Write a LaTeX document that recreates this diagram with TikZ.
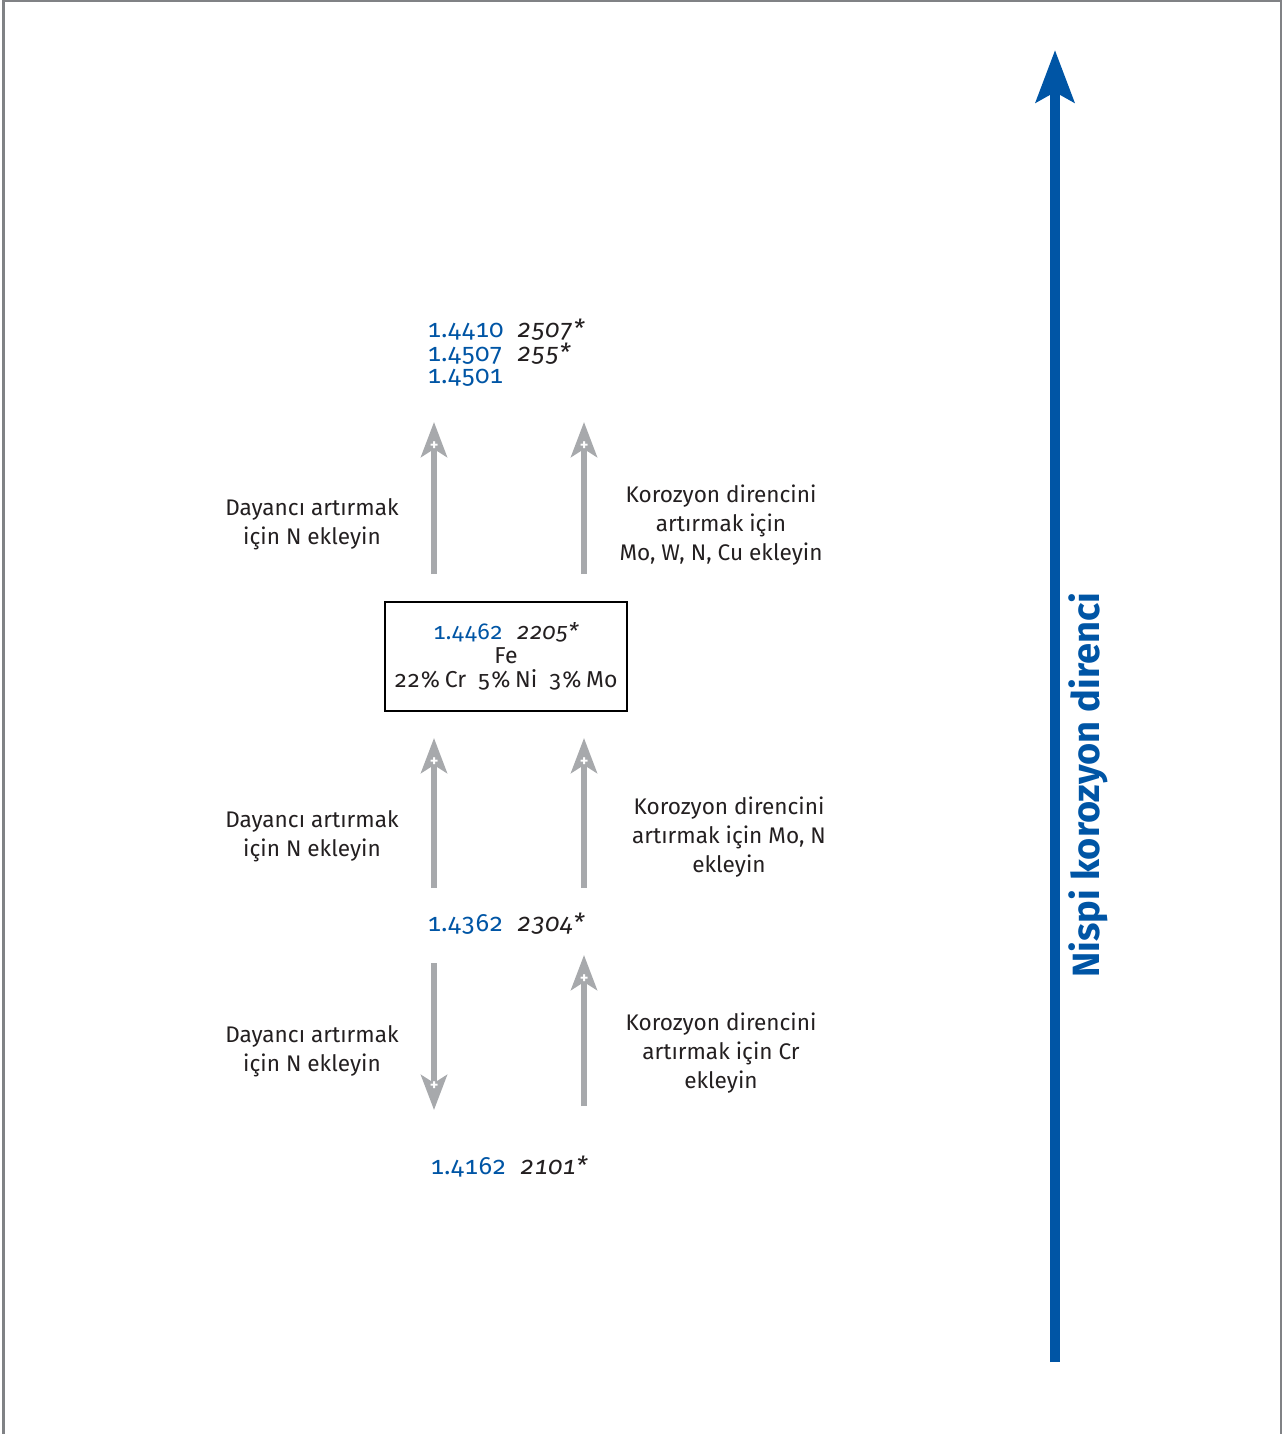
\documentclass[tikz,border=0pt]{standalone}
\usepackage{fontspec}
\setmainfont{Fira Sans}[Numbers={OldStyle,Monospaced}]
\usepackage{tikz}
\usetikzlibrary{arrows.meta, decorations.markings}
\definecolor{steelblue}{RGB}{0,85,165}
\definecolor{arrowgray}{RGB}{167,169,172}
\definecolor{framegray}{RGB}{128,130,133}
\definecolor{textblack}{RGB}{35,31,32}
\newcommand{\grade}[1]{\textcolor{steelblue}{#1}}

\begin{document}
\begin{tikzpicture}[
        x=0.5pt, y=-0.5pt,
        % Define styles
        code/.style={anchor=west, inner sep=0pt, font=\fontsize{12.5}{14}\selectfont, text=textblack},
        label/.style={align=center, inner sep=0pt, font=\fontsize{11.3}{14.5}\selectfont, text=textblack},
        alloy/.style={draw, thick, minimum width=121pt, minimum height=54.5pt, align=center, inner sep=0pt, font=\fontsize{11.5}{12}\selectfont, text=textblack},
        plussign/.style={text=white, inner sep=0pt, font=\fontsize{8}{8}\bfseries\selectfont},
        gain/.style={arrowgray, line width=3pt, -{Stealth[length=17.5pt, width=13pt, inset=4pt]},
            postaction={decorate, decoration={markings, mark=at position -12pt with {\node[plussign] {+};}}}},
        trend/.style={steelblue, line width=5pt, -{Stealth[length=26pt, width=19pt, inset=5pt]}}
    ]

    \useasboundingbox (0,0) rectangle (1283,1434);

    % frame
    \draw[framegray, line width=1.5pt] (3,0) -- (3,1434);
    \draw[framegray, line width=0.6pt] (3,1) -- (1281,1) -- (1281,1434);

    % 1. Top grades
    \node[code] (g4410) at (427,330) {\grade{1.4410}\hspace{7pt}\textit{2507*}};
    \node[code] (g4507) at (427,354) {\grade{1.4507}\hspace{7pt}\textit{255*}};
    \node[code] (g4501) at (427,378) {\grade{1.4501}};

    % 2. Upper arrows
    \coordinate (u1s) at (434,574);
    \coordinate (u1e) at (434,422);
    \coordinate (u2s) at (584,574);
    \coordinate (u2e) at (584,422);
    \draw[gain] (u1s) -- (u1e);
    \draw[gain] (u2s) -- (u2e);
    \node[label] (lu1) at (312,524) {Dayancı artırmak\\için N ekleyin};
    \node[label] (lu2) at (721,525) {Korozyon direncini\\artırmak için\\Mo, W, N, Cu ekleyin};

    % 3. Base alloy
    \node[alloy] (g4462) at (506,656.5) {\grade{1.4462}\hspace{7pt}\textit{2205*}\\Fe\\22\%\,Cr\enspace 5\%\,Ni\enspace 3\%\,Mo};

    % 4. Middle arrows
    \coordinate (m1s) at (434,888);
    \coordinate (m1e) at (434,738);
    \coordinate (m2s) at (584,888);
    \coordinate (m2e) at (584,738);
    \draw[gain] (m1s) -- (m1e);
    \draw[gain] (m2s) -- (m2e);
    \node[label] (lm1) at (312,836) {Dayancı artırmak\\için N ekleyin};
    \node[label] (lm2) at (729,837) {Korozyon direncini\\artırmak için Mo, N\\ekleyin};

    % 5. Lean duplex
    \node[code] (g4362) at (427,924) {\grade{1.4362}\hspace{7pt}\textit{2304*}};

    % 6. Lower arrows
    \coordinate (d1s) at (434,963);
    \coordinate (d1e) at (434,1110);
    \coordinate (d2s) at (584,1106);
    \coordinate (d2e) at (584,955);
    \draw[gain] (d1s) -- (d1e);
    \draw[gain] (d2s) -- (d2e);
    \node[label] (ld1) at (312,1051) {Dayancı artırmak\\için N ekleyin};
    \node[label] (ld2) at (721,1053) {Korozyon direncini\\artırmak için Cr\\ekleyin};

    % 7. Bottom grade
    \node[code] (g4162) at (430,1167) {\grade{1.4162}\hspace{7pt}\textit{2101*}};

    % 8. Corrosion resistance scale
    \coordinate (sbot) at (1055,1362);
    \coordinate (stop) at (1055,50);
    \draw[trend] (sbot) -- (stop);
    \node[rotate=90, text=steelblue, font=\fontsize{19}{19}\bfseries\selectfont] (scale) at (1088,785) {Nispi korozyon direnci};

\end{tikzpicture}
\end{document}
